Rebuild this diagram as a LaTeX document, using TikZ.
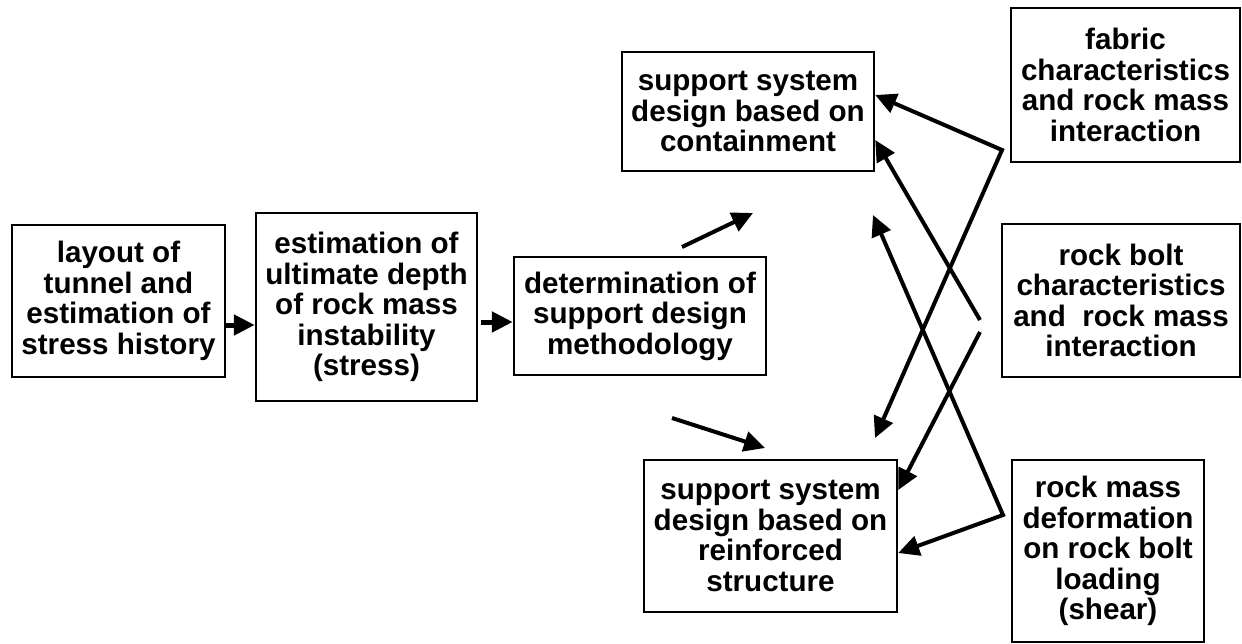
\documentclass[tikz,border=0pt]{standalone}
\usepackage{fontspec}
\setmainfont{Liberation Sans}
\usetikzlibrary{arrows.meta}
\begin{document}
\begin{tikzpicture}[x=1pt,y=-1pt,
  box/.style={draw, line width=2.5pt, align=center, inner sep=0pt,
    font=\bfseries\fontsize{29.6}{30.5}\selectfont},
  arr/.style={line width=4pt, -{Triangle[length=21pt,width=20pt]}},
  dbl/.style={line width=4pt, {Triangle[length=21pt,width=20pt]}-{Triangle[length=21pt,width=20pt]}}]
\useasboundingbox (0,0) rectangle (1242,644);
\node[box, minimum width=213pt, minimum height=152pt] (b1) at (118.5,301) {layout of\\tunnel and\\estimation of\\stress history};
\node[box, minimum width=221pt, minimum height=188pt] (b2) at (366.5,307) {estimation of\\ultimate depth\\of rock mass\\instability\\(stress)};
\node[box, minimum width=252pt, minimum height=118pt] (b3) at (640,316) {determination of\\support design\\methodology};
\node[box, minimum width=252pt, minimum height=119pt] (b4) at (748,111.5) {support system\\design based on\\containment};
\node[box, minimum width=253pt, minimum height=152pt] (b5) at (770.5,536) {support system\\design based on\\reinforced\\structure};
\node[box, minimum width=229pt, minimum height=154pt] (f) at (1125.5,85) {fabric\\characteristics\\and rock mass\\interaction};
\node[box, minimum width=238pt, minimum height=153pt] (rb) at (1121,300.5) {rock bolt\\characteristics\\and~ rock mass\\interaction};
\node[box, minimum width=192pt, minimum height=182pt] (sh) at (1108,551) {rock mass\\deformation\\on rock bolt\\loading\\(shear)};
\draw[arr, line width=5pt] ([yshift=-24pt]b1.east) -- ([yshift=-18pt]b2.west);
\draw[arr, line width=5pt, shorten <=3pt] ([yshift=-15pt]b2.east) -- ([yshift=-6pt]b3.west);
\coordinate (m1) at (682,247); \coordinate (m2) at (753,213);
\draw[arr] (m1) -- (m2);
\coordinate (m3) at (672,418); \coordinate (m4) at (765,448);
\draw[arr] (m3) -- (m4);
\coordinate (v1) at (1002,150); \coordinate (t1) at (875,438);
\draw[dbl] ([yshift=16.5pt]b4.east) -- (v1) -- (t1);
\coordinate (v2a) at (980,320); \coordinate (v2b) at (980,332);
\draw[arr] (v2a) -- ([yshift=-28.5pt]b4.east);
\draw[arr] (v2b) -- ([yshift=46pt]b5.east);
\coordinate (v3) at (1003,515); \coordinate (t3) at (873,215);
\draw[dbl] (t3) -- (v3) -- ([yshift=-17pt]b5.east);
\end{tikzpicture}
\end{document}
